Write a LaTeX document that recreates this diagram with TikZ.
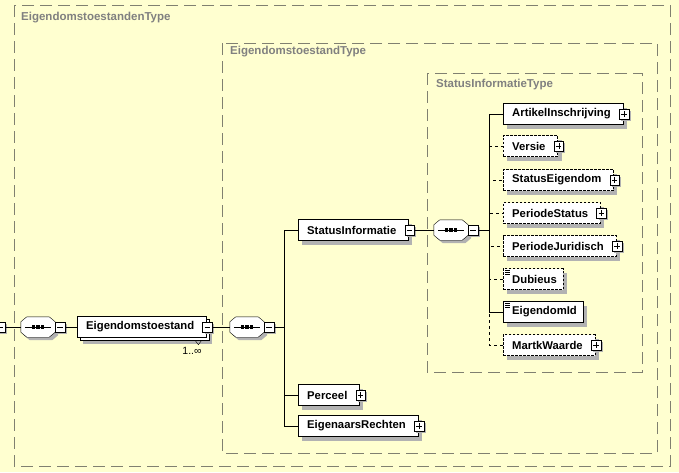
\documentclass[tikz,border=0pt]{standalone}
\usepackage{fontspec}
\setmainfont{Liberation Sans}
\usetikzlibrary{positioning,shadows}

\definecolor{bgyellow}{RGB}{255,255,208}
\definecolor{framegray}{RGB}{128,128,112}
\definecolor{labelgray}{RGB}{128,128,128}
\definecolor{shadowgray}{RGB}{178,178,178}

\newcommand\octpath[1]{([xshift=6pt]#1.north west) -- ([xshift=-6pt]#1.north east)
  -- ([yshift=-5pt]#1.north east) -- ([yshift=5pt]#1.south east)
  -- ([xshift=-6pt]#1.south east) -- ([xshift=6pt]#1.south west)
  -- ([yshift=5pt]#1.south west) -- ([yshift=-5pt]#1.north west) -- cycle}
% element box with its grey shadow: style, name, position, text
\newcommand\elemnode[4]{%
  \node[#1, ghost] at ([xshift=4pt,yshift=-4pt]#3) {\phantom{#4}};
  \node[#1] (#2) at (#3) {#4};}
% plus/minus box with its grey shadow: style, name, anchor, x offset
\newcommand\pmnode[4]{%
  \node[pm, ghost] at ([xshift=#4+2pt,yshift=-2pt]#3) {};
  \node[#1] (#2) at ([xshift=#4]#3) {};}

\tikzset{
  frame/.style={draw=framegray, dash pattern=on 12pt off 6pt},
  framelabel/.style={anchor=west, text=labelgray, inner sep=0pt,
    font=\fontsize{11.5}{13}\selectfont\bfseries},
  greyshade/.style={fill=shadowgray, transform canvas={shift={(#1,-#1)}}},
  ghost/.style={draw=none, fill=shadowgray, text=shadowgray, path picture={}},
  ebox/.style={draw, fill=white, anchor=west, inner sep=0pt, minimum height=21pt,
    font=\fontsize{11.3}{13}\selectfont\bfseries,
    execute at begin node={\hspace*{9pt}}},
  elem/.style={ebox, execute at end node={\hspace*{12pt}}},
  optelem/.style={elem, dash pattern=on 2.5pt off 1.5pt},
  leaf/.style={ebox, execute at end node={\hspace*{6pt}}},
  optleaf/.style={leaf, dash pattern=on 2.5pt off 1.5pt},
  multi/.style={elem, copy shadow={shadow xshift=3pt, shadow yshift=-3pt}},
  pm/.style={draw, fill=white, minimum size=9.5pt, inner sep=0pt},
  minusbox/.style={pm, path picture={
    \draw ([xshift=2pt]path picture bounding box.west) -- ([xshift=-2pt]path picture bounding box.east);}},
  plusbox/.style={pm, path picture={
    \draw ([xshift=2pt]path picture bounding box.west) -- ([xshift=-2pt]path picture bounding box.east);
    \draw ([yshift=-2pt]path picture bounding box.north) -- ([yshift=2pt]path picture bounding box.south);}},
  seq/.style={minimum width=34pt, minimum height=20pt, inner sep=0pt},
  card/.style={font=\fontsize{10.5}{12}\selectfont, inner sep=0pt}
}

\begin{document}
\begin{tikzpicture}[x=1pt,y=-1pt]
  \fill[bgyellow] (0,0) rectangle (679,472);
  \useasboundingbox (0,0) rectangle (679,472);

  % type frames
  \draw[frame] (14,5) rectangle (670,466);
  \node[framelabel] (tlabel1) at (21,18) {EigendomstoestandenType};
  \draw[frame] (222,43) rectangle (657,453);
  \node[framelabel] (tlabel2) at (230,52) {EigendomstoestandType};
  \draw[frame] (427,73) rectangle (642,372);
  \node[framelabel] (tlabel3) at (436,85) {StatusInformatieType};

  % sequence compositors
  \node[seq] (seq1) at (38,327) {};
  \node[seq] (seq2) at (247,327) {};
  \node[seq] (seq3) at (451,230) {};
  \foreach \s in {seq1,seq2,seq3} {
    \fill[greyshade=3pt] \octpath{\s};
    \filldraw[fill=white] \octpath{\s};
    \draw ([xshift=4pt]\s.west) -- ([xshift=-4pt]\s.east);
    \foreach \d in {-4.5,0,4.5}
      \fill ([xshift=\d pt]\s.center) +(-1.6pt,-1.6pt) rectangle +(1.6pt,1.6pt);
  }

  % Eigendomstoestand
  \begin{scope}
    \clip (0,0) rectangle (20,472);
    \pmnode{minusbox}{m0}{0,327}{0pt}
  \end{scope}
  \pmnode{minusbox}{m1}{seq1.east}{4.75pt}
  \node[elem, ghost] at ([xshift=6pt,yshift=-6pt]77,327) {\phantom{Eigendomstoestand}};
  \node[multi] (eig) at (77,327) {Eigendomstoestand};
  \pmnode{minusbox}{me}{eig.east}{1pt}
  \node[card] (eigcard) at (192,351) {1..∞};
  \draw ([xshift=-11pt,yshift=-3pt]eig.south east) -- ++(3,4) -- ++(3,-4);
  \pmnode{minusbox}{m2}{seq2.east}{4.75pt}

  % children of EigendomstoestandType
  \elemnode{elem}{statusinfo}{298,230}{StatusInformatie}
  \pmnode{minusbox}{ms}{statusinfo.east}{1pt}
  \pmnode{minusbox}{m3}{seq3.east}{4.75pt}
  \elemnode{elem}{perceel}{298,395}{Perceel}
  \pmnode{plusbox}{pp}{perceel.east}{1pt}
  \elemnode{elem}{rechten}{298,426}{EigenaarsRechten}
  \pmnode{plusbox}{pr}{rechten.east}{1pt}

  % children of StatusInformatieType
  \elemnode{elem}{artikel}{503,114}{ArtikelInschrijving}
  \pmnode{plusbox}{pa}{artikel.east}{1pt}
  \elemnode{optelem}{versie}{503,146}{Versie}
  \pmnode{plusbox}{pv}{versie.east}{1pt}
  \elemnode{optelem}{steig}{503,180}{StatusEigendom}
  \pmnode{plusbox}{pse}{steig.east}{1pt}
  \elemnode{optelem}{perstat}{503,213}{PeriodeStatus}
  \pmnode{plusbox}{pps}{perstat.east}{1pt}
  \elemnode{optelem}{perjur}{503,246}{PeriodeJuridisch}
  \pmnode{plusbox}{ppj}{perjur.east}{1pt}
  \elemnode{optleaf}{dubieus}{503,279}{Dubieus}
  \elemnode{leaf}{eigid}{503,312}{EigendomId}
  \elemnode{optelem}{markt}{503,345}{MartkWaarde}
  \pmnode{plusbox}{pmw}{markt.east}{1pt}
  \foreach \n in {dubieus,eigid}
    \foreach \k in {2,4,6}
      \draw ([xshift=2pt,yshift=-\k pt]\n.north west) -- ++(5,0);

  % connectors
  \coordinate (bus1) at (284,327);
  \coordinate (bus2) at (489,230);
  \draw (m0.east) -- (seq1.west);
  \draw (m1.east) -- (eig.west);
  \draw (me.east) -- (seq2.west);
  \draw (m2.east) -- (bus1);
  \draw (bus1) |- (statusinfo.west);
  \draw (bus1) |- (perceel.west);
  \draw (bus1) |- (rechten.west);
  \draw (ms.east) -- (seq3.west);
  \draw (m3.east) -- (bus2);
  \draw[dashed] (bus2) |- (versie.west);
  \draw[dashed] (bus2) |- (steig.west);
  \draw[dashed] (bus2) |- (perstat.west);
  \draw[dashed] (bus2) |- (perjur.west);
  \draw[dashed] (bus2) |- (dubieus.west);
  \draw[dashed] (bus2) |- (markt.west);
  \draw (bus2) |- (artikel.west);
  \draw (bus2) |- (eigid.west);
\end{tikzpicture}
\end{document}
